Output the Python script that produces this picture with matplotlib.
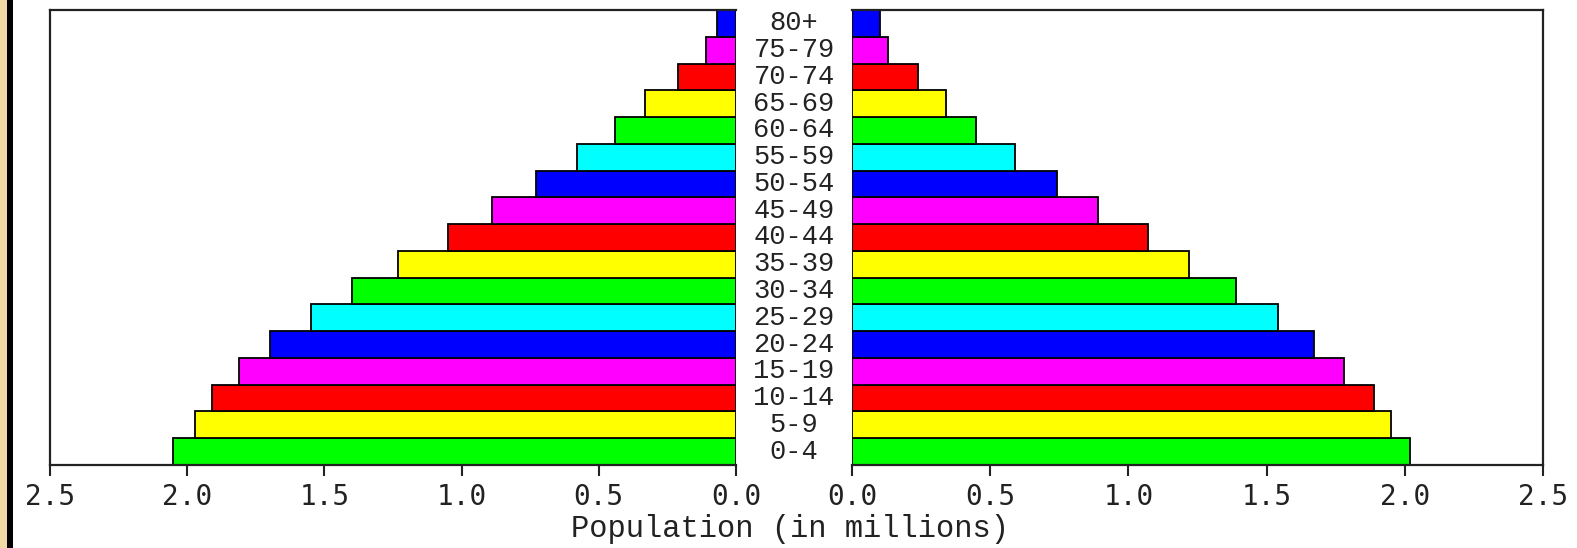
import matplotlib
matplotlib.use("Agg")
import matplotlib.pyplot as plt
import matplotlib.transforms as mtransforms
from matplotlib.patches import Rectangle

# ---- data ----
age_groups = ["0-4", "5-9", "10-14", "15-19", "20-24", "25-29", "30-34", "35-39",
              "40-44", "45-49", "50-54", "55-59", "60-64", "65-69", "70-74", "75-79", "80+"]
male = [2.05, 1.97, 1.91, 1.81, 1.70, 1.55, 1.40, 1.23, 1.05, 0.89, 0.73, 0.58,
        0.44, 0.33, 0.21, 0.11, 0.07]
female = [2.02, 1.95, 1.89, 1.78, 1.67, 1.54, 1.39, 1.22, 1.07, 0.89, 0.74, 0.59,
          0.45, 0.34, 0.24, 0.13, 0.10]
bar_colors = ["#00ff00", "#ffff00", "#ff0000", "#ff00ff", "#0000ff", "#00ffff"]
xticks = [0.0, 0.5, 1.0, 1.5, 2.0, 2.5]
xlabel = "Population (in millions)"

W, H = 1577, 548
fig = plt.figure(figsize=(W / 100, H / 100), dpi=100)
fig.patch.set_facecolor("white")

# left decorative border strips
fig.patches.append(Rectangle((0, 0), 7 / W, 1, transform=fig.transFigure,
                             facecolor="#efd9a5", edgecolor="none", zorder=0))
fig.patches.append(Rectangle((7 / W, 0), 6 / W, 1, transform=fig.transFigure,
                             facecolor="black", edgecolor="none", zorder=0))

bottom = 1 - 465 / H
height = (465 - 10) / H
axL = fig.add_axes([50 / W, bottom, 686 / W, height])
axR = fig.add_axes([852 / W, bottom, 691 / W, height])

ypos = list(range(len(age_groups)))
colors = [bar_colors[i % len(bar_colors)] for i in ypos]

axL.barh(ypos, male, height=1.0, color=colors, edgecolor="black", linewidth=1.3)
axR.barh(ypos, female, height=1.0, color=colors, edgecolor="black", linewidth=1.3)

tick_font = {"family": "DejaVu Sans Mono", "size": 20}
for ax in (axL, axR):
    ax.set_ylim(-0.5, len(age_groups) - 0.5)
    ax.set_yticks([])
    ax.set_xticks(xticks)
    ax.set_xticklabels([f"{t:.1f}" for t in xticks], fontdict=tick_font, color="#222222")
    ax.tick_params(axis="x", direction="out", length=8, width=1.5, pad=5, colors="#222222")
    for s in ax.spines.values():
        s.set_linewidth(1.6)
        s.set_color("#222222")

axL.set_xlim(2.5, 0)
axR.set_xlim(0, 2.5)
axL.spines["right"].set_visible(False)
axR.spines["left"].set_visible(False)

# age labels between the two panels
trans = mtransforms.blended_transform_factory(fig.transFigure, axL.transData)
for y, lab in zip(ypos, age_groups):
    fig.text(794 / W, y, lab, transform=trans, ha="center", va="center",
             family="Liberation Mono", fontsize=19.5, color="#222222")

fig.text(790 / W, 1 - 529 / H, xlabel, ha="center", va="center",
         family="Liberation Mono", fontsize=22, color="#222222")

fig.savefig("out.png", dpi=100)
